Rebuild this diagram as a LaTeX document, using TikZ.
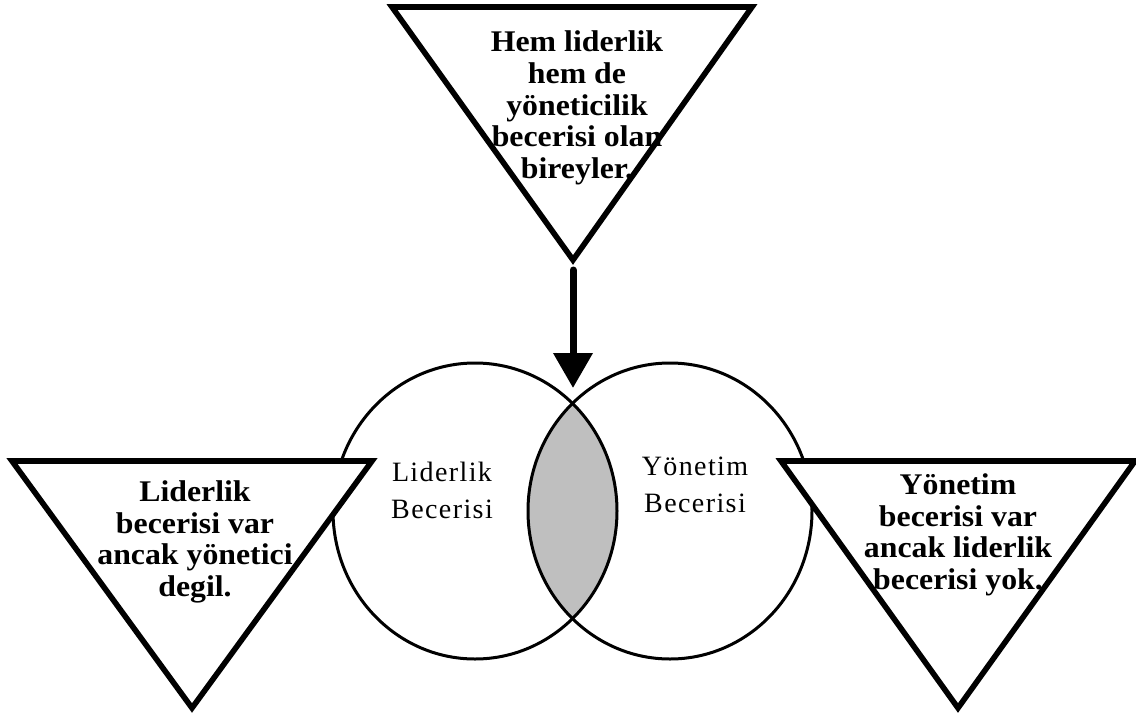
\documentclass[tikz,border=0pt]{standalone}
\usepackage{fontspec}
\setmainfont{Liberation Serif}
\usetikzlibrary{arrows.meta}
\tikzset{
  tri/.style={draw, line width=2.8pt, fill=white, line join=miter},
  venn/.style={draw, line width=1.5pt},
  boldtext/.style={align=center, inner sep=0pt, font=\fontsize{15}{15.8}\selectfont\bfseries\addfontfeature{FakeStretch=1.06}},
  plaintext/.style={align=center, inner sep=0pt, font=\fontsize{14}{18.5}\selectfont\addfontfeature{LetterSpace=5}},
  bigarrow/.style={line width=3.5pt, -{Triangle[width=19pt,length=17.5pt]}}
}
\begin{document}
\begin{tikzpicture}[x=0.5pt, y=-0.5pt, line cap=round]
	\useasboundingbox (0,0) rectangle (1136,718);
	% shared part of the two skills
	\begin{scope}
		\clip (475,511) ellipse [x radius=71pt, y radius=74pt];
		\fill[gray!50] (670,511) ellipse [x radius=71pt, y radius=74pt];
	\end{scope}
	\draw[venn] (475,511) ellipse [x radius=71pt, y radius=74pt];
	\draw[venn] (670,511) ellipse [x radius=71pt, y radius=74pt];
	% triangles
	\draw[tri] (392,7)--(752,7)--(573,260) coordinate (topapex)--cycle;
	\draw[tri] (12,461)--(372,461)--(192,708)--cycle;
	\draw[tri] (781,461)--(1135,461)--(958,708)--cycle;
	\coordinate (meet) at (573,404);
	\draw[bigarrow, shorten <=5pt, shorten >=8pt] (topapex)--(meet);
	% texts
	\node[boldtext] (both) at (577,108) {Hem liderlik\\hem de\\yöneticilik\\becerisi olan\\bireyler.};
	\node[boldtext] (leaderonly) at (195,542) {Liderlik\\becerisi var\\ancak yönetici\\degil.};
	\node[boldtext] (manageronly) at (958,535) {Yönetim\\becerisi var\\ancak liderlik\\becerisi yok.};
	\node[plaintext] (leader) at (442,490) {Liderlik\\Becerisi};
	\node[plaintext] (manager) at (695,485) {Yönetim\\Becerisi};
\end{tikzpicture}
\end{document}
